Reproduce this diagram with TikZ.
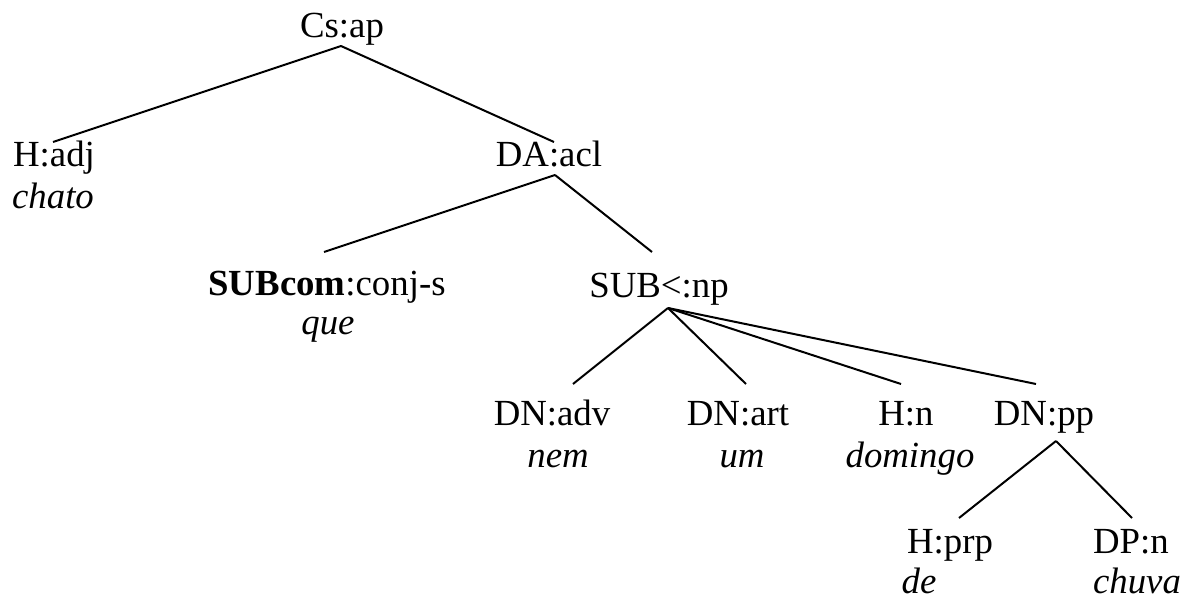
\documentclass[tikz,border=0pt]{standalone}
\usepackage{fontspec}
\setmainfont{Liberation Serif}
\begin{document}
\begin{tikzpicture}[x=0.75pt,y=-0.75pt,
  lbl/.style={anchor=base,inner sep=0pt,font=\fontsize{27.6}{30}\selectfont},
  wrd/.style={anchor=base,inner sep=0pt,font=\fontsize{27.6}{30}\selectfont\itshape},
  edge/.style={line width=1.5pt}]
\useasboundingbox (0,0) rectangle (1189,599);
% labels
\node[lbl] (csap) at (342,38) {Cs:ap};
\node[lbl] (hadj) at (54,167) {H:adj};
\node[wrd] (chato) at (53,209) {chato};
\node[lbl] (daacl) at (549,167) {DA:acl};
\node[lbl] (subcom) at (327,296) {\textbf{SUBcom}:conj-s};
\node[wrd] (que) at (328,334) {que};
\node[lbl] (subnp) at (659,297) {SUB<:np};
\node[lbl] (dnadv) at (552,425) {DN:adv};
\node[wrd] (nem) at (558,467) {nem};
\node[lbl] (dnart) at (738,425) {DN:art};
\node[wrd] (um) at (742,467) {um};
\node[lbl] (hn) at (906,425) {H:n};
\node[wrd] (domingo) at (910,467) {domingo};
\node[lbl] (dnpp) at (1044,425) {DN:pp};
\node[lbl] (hprp) at (950,553) {H:prp};
\node[wrd] (de) at (919,593) {de};
\node[lbl] (dpn) at (1131,553) {DP:n};
\node[wrd] (chuva) at (1137,593) {chuva};
% connector end points
\coordinate (csap-b) at (341,46);
\coordinate (hadj-t) at (53,142);
\coordinate (daacl-t) at (554,142);
\coordinate (daacl-b) at (555,175);
\coordinate (subcom-t) at (324,252);
\coordinate (subnp-t) at (652,252);
\coordinate (subnp-b) at (668,308);
\coordinate (dnadv-t) at (573,384);
\coordinate (dnart-t) at (746,384);
\coordinate (hn-t) at (901,384);
\coordinate (dnpp-t) at (1036,384);
\coordinate (dnpp-b) at (1056,441);
\coordinate (hprp-t) at (959,518);
\coordinate (dpn-t) at (1132,518);
% connectors
\draw[edge] (csap-b) -- (hadj-t);
\draw[edge] (csap-b) -- (daacl-t);
\draw[edge] (daacl-b) -- (subcom-t);
\draw[edge] (daacl-b) -- (subnp-t);
\draw[edge] (subnp-b) -- (dnadv-t);
\draw[edge] (subnp-b) -- (dnart-t);
\draw[edge] (subnp-b) -- (hn-t);
\draw[edge] (subnp-b) -- (dnpp-t);
\draw[edge] (dnpp-b) -- (hprp-t);
\draw[edge] (dnpp-b) -- (dpn-t);
\end{tikzpicture}
\end{document}
